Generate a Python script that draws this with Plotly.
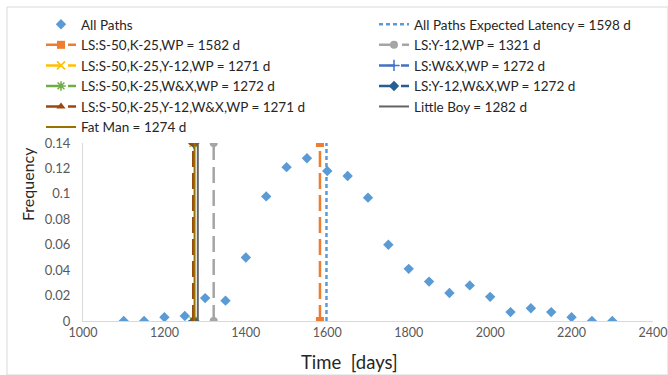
import plotly.graph_objects as go

# Histogram of all paths
time_days = [1100, 1150, 1200, 1250, 1300, 1350, 1400, 1450, 1500, 1550, 1600,
             1650, 1700, 1750, 1800, 1850, 1900, 1950, 2000, 2050, 2100, 2150,
             2200, 2250, 2300]
frequency = [0.0, 0.0, 0.003, 0.004, 0.018, 0.016, 0.05, 0.098, 0.121, 0.128, 0.118,
             0.114, 0.097, 0.06, 0.041, 0.031, 0.022, 0.028, 0.019, 0.007, 0.01, 0.007,
             0.003, 0.0, 0.0]

# Vertical reference lines (latency values in days)
line_names = [
    "All Paths Expected Latency = 1598 d",
    "LS:S-50,K-25,WP = 1582 d",
    "LS:Y-12,WP = 1321 d",
    "LS:S-50,K-25,Y-12,WP = 1271 d",
    "LS:W&X,WP = 1272 d",
    "LS:S-50,K-25,W&X,WP = 1272 d",
    "LS:Y-12,W&X,WP = 1272 d",
    "LS:S-50,K-25,Y-12,W&X,WP = 1271 d",
    "Little Boy = 1282 d",
    "Fat Man = 1274 d",
]
line_values = [1598, 1582, 1321, 1271, 1272, 1272, 1272, 1271, 1282, 1274]
line_span = [0, 0.14]

line_colors = ["#5B9BD5", "#ED7D31", "#A5A5A5", "#FFC000", "#4472C4",
               "#70AD47", "#255E91", "#9E480E", "#636363", "#997300"]
line_dashes = ["4px,3px", "16px,6px", "16px,7px", "16px,6px", "16px,6px",
               "16px,6px", "16px,6px", "16px,6px", "solid", "solid"]
line_markers = [None, "square", "circle", "x-thin", "cross-thin",
                "asterisk", "diamond", "triangle-up", None, None]
line_legend_col = ["legend2", "legend", "legend2", "legend", "legend2",
                   "legend", "legend2", "legend", "legend2", "legend"]

x_ticks = [1000, 1200, 1400, 1600, 1800, 2000, 2200, 2400]

fig = go.Figure()

fig.add_trace(go.Scatter(
    x=time_days, y=frequency, mode="markers", name="All Paths", legend="legend",
    marker=dict(symbol="diamond", size=8, color="#5B9BD5"),
))

for name, val, col, dash, mk, lg in zip(line_names, line_values, line_colors,
                                        line_dashes, line_markers, line_legend_col):
    if mk is None:
        fig.add_trace(go.Scatter(
            x=[val, val], y=line_span, mode="lines", name=name, legend=lg,
            line=dict(color=col, width=2.5 if dash != "solid" else 2, dash=dash),
        ))
    else:
        mline = dict(color=col, width=1.5) if "thin" in mk or mk == "asterisk" else dict(width=0)
        fig.add_trace(go.Scatter(
            x=[val, val], y=line_span, mode="lines+markers", name=name, legend=lg,
            line=dict(color=col, width=2.5, dash=dash),
            marker=dict(symbol=mk, size=8, color=col, line=mline),
        ))

W, H = 668, 375
L, R, T, B = 83, 15, 143, 54
pw, ph = W - L - R, H - T - B

def px_x(p):
    return (p - L) / pw

def px_y(p):
    return (H - B - p) / ph

legend_common = dict(
    orientation="v", xanchor="left", yanchor="top",
    font=dict(size=13.5, color="#262626"), bgcolor="rgba(0,0,0,0)",
    tracegroupgap=0, itemwidth=30,
)

fig.update_layout(
    width=W, height=H,
    margin=dict(l=L, r=R, t=T, b=B, autoexpand=False),
    paper_bgcolor="white", plot_bgcolor="white",
    font=dict(family="Lato, Open Sans, sans-serif", color="#262626"),
    showlegend=True,
    legend=dict(x=px_x(41), y=px_y(9), **legend_common),
    legend2=dict(x=px_x(374), y=px_y(9), **legend_common),
    xaxis=dict(
        range=[1000, 2400], tickvals=x_ticks, showgrid=False, zeroline=False,
        showline=True, linecolor="#D9D9D9", linewidth=1, ticklabeloverflow="allow",
        ticks="", tickfont=dict(size=12.5, color="#595959"), ticklabelstandoff=0,
    ),
    yaxis=dict(
        range=[0, 0.14], dtick=0.02, showgrid=False, zeroline=False,
        showline=True, linecolor="#D9D9D9", linewidth=1,
        ticks="", tickfont=dict(size=13, color="#595959"), ticklabelstandoff=9,
    ),
    annotations=[
        dict(text="Time  [days]", x=px_x(349), y=px_y(362), xref="paper", yref="paper",
             showarrow=False, font=dict(size=18.5, color="#262626"), xanchor="center", yanchor="middle"),
        dict(text="Frequency", x=px_x(27), y=px_y(184), xref="paper", yref="paper",
             showarrow=False, textangle=-90, font=dict(size=16, color="#262626"),
             xanchor="center", yanchor="middle"),
    ],
    shapes=[
        dict(type="rect", xref="paper", yref="paper",
             x0=px_x(7), x1=px_x(668), y0=px_y(375), y1=px_y(7),
             line=dict(color="#D9D9D9", width=1), fillcolor="rgba(0,0,0,0)", layer="below"),
    ],
)

fig.write_html("out.html", config={"displayModeBar": False},
               post_script="document.body.style.margin='0px';")
